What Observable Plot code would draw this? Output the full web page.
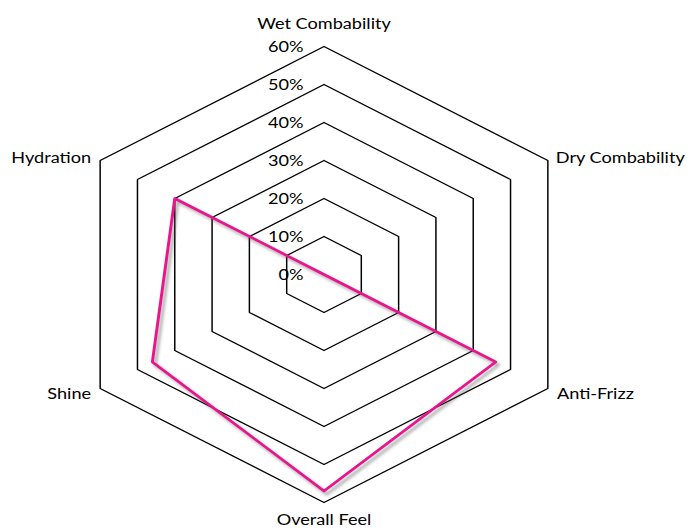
<!DOCTYPE html>
<html>
<head>
<meta charset="utf-8">
<script src="https://cdn.jsdelivr.net/npm/d3@7"></script>
<script src="https://cdn.jsdelivr.net/npm/@observablehq/plot@0.6"></script>
<style>
  html, body { margin: 0; padding: 0; background: #fff; }
  #chart { width: 687px; height: 529px; overflow: hidden; }
</style>
</head>
<body>
<div id="chart"></div>
<script>
// ---- data ----
const categories = ["Wet Combability", "Dry Combability", "Anti-Frizz", "Overall Feel", "Shine", "Hydration"];
const seriesValues = [0.00, 0.00, 0.46, 0.57, 0.46, 0.40];
const tickValues = [0, 0.1, 0.2, 0.3, 0.4, 0.5, 0.6];
const tickLabels = ["0%", "10%", "20%", "30%", "40%", "50%", "60%"];

const maxV = 0.6;
const n = categories.length;
const angle = i => (2 * Math.PI * i) / n;
const px = (v, i) => v * Math.sin(angle(i));
const py = (v, i) => v * Math.cos(angle(i));

// grid rings (closed hexagons)
const rings = [];
tickValues.filter(t => t > 0).forEach(t => {
  for (let k = 0; k <= n; k++) {
    const i = k % n;
    rings.push({ring: t, x: px(t, i), y: py(t, i)});
  }
});

// series polygon
const series = [];
for (let k = 0; k <= n; k++) {
  const i = k % n;
  series.push({x: px(seriesValues[i], i), y: py(seriesValues[i], i)});
}

const ticksData = tickValues.map((t, i) => ({x: 0, y: t, label: tickLabels[i]}));

const labelsData = categories.map((c, i) => ({x: px(maxV, i), y: py(maxV, i), label: c, i}));
const labelCfg = [
  {anchor: "middle", dx: 0, dy: -23},
  {anchor: "start", dx: 7, dy: -3},
  {anchor: "start", dx: 8, dy: 5},
  {anchor: "middle", dx: 0, dy: 17},
  {anchor: "end", dx: -8, dy: 5},
  {anchor: "end", dx: -8, dy: -3}
];

const W = 606, H = 529;
const cx = 285.3, cy = 274, R = 228;
const font = "Lato, 'Open Sans', sans-serif";

const chart = Plot.plot({
  width: W,
  height: H,
  x: {domain: [-maxV, maxV], range: [cx - R, cx + R], axis: null},
  y: {domain: [-maxV, maxV], range: [cy + R, cy - R], axis: null},
  style: {fontFamily: font, background: "#fff", overflow: "visible"},
  marks: [
    Plot.line(rings, {x: "x", y: "y", z: "ring", stroke: "#000", strokeWidth: 1.3}),
    Plot.line(series, {x: "x", y: "y", stroke: "#555", strokeOpacity: 0.45, strokeWidth: 3, dx: 2.5, dy: 3}),
    Plot.line(series, {x: "x", y: "y", stroke: "#e8158c", strokeWidth: 2.6}),
    Plot.text(ticksData, {x: "x", y: "y", text: "label", textAnchor: "end", dx: -18, fontSize: 16, fill: "#000"}),
    ...labelsData.map(d => Plot.text([d], {
      x: "x", y: "y", text: "label",
      textAnchor: labelCfg[d.i].anchor, dx: labelCfg[d.i].dx, dy: labelCfg[d.i].dy,
      fontSize: 16, fill: "#000"
    }))
  ]
});

// soft shadow on the grey line
const ns = "http://www.w3.org/2000/svg";
const defs = document.createElementNS(ns, "defs");
const filt = document.createElementNS(ns, "filter");
filt.setAttribute("id", "blurShadow");
filt.setAttribute("x", "-10%"); filt.setAttribute("y", "-10%");
filt.setAttribute("width", "120%"); filt.setAttribute("height", "120%");
const blur = document.createElementNS(ns, "feGaussianBlur");
blur.setAttribute("stdDeviation", "1.6");
filt.appendChild(blur);
defs.appendChild(filt);
chart.insertBefore(defs, chart.firstChild);
chart.querySelectorAll('g[stroke="#555"]').forEach(g => g.setAttribute("filter", "url(#blurShadow)"));

// stretch horizontally like the reference image
chart.setAttribute("viewBox", `0 0 ${W} ${H}`);
chart.setAttribute("preserveAspectRatio", "none");
chart.setAttribute("width", 687);
chart.setAttribute("height", 529);
chart.style.width = "687px";
chart.style.height = "529px";
chart.style.maxWidth = "none";

document.getElementById("chart").appendChild(chart);
</script>
</body>
</html>
